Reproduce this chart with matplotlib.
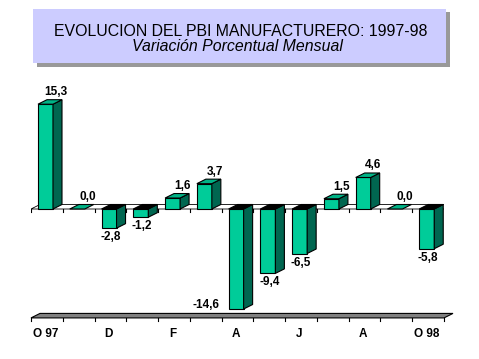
import matplotlib
matplotlib.use("Agg")
import matplotlib.pyplot as plt
from matplotlib.patches import Polygon, Rectangle

# ---- data ----
months = ["O 97", "N", "D", "E", "F", "M", "A", "M", "J", "J", "A", "S", "O 98"]
tick_labels = ["O 97", "", "D", "", "F", "", "A", "", "J", "", "A", "", "O 98"]
values = [15.3, 0.0, -2.8, -1.2, 1.6, 3.7, -14.6, -9.4, -6.5, 1.5, 4.6, 0.0, -5.8]
title1 = "EVOLUCION DEL PBI MANUFACTURERO: 1997-98"
title2 = "Variación Porcentual Mensual"

W, H = 479, 359
fig = plt.figure(figsize=(W / 100, H / 100), dpi=100)
fig.patch.set_facecolor("white")

# axes geometry (pixels)
left_px, right_px = 31, 444
zero_px, ppu = 209, 6.85
ymin, ymax = -15.9, 17.0
bot_px = zero_px - ymin * ppu
top_px = zero_px - ymax * ppu
ax = fig.add_axes([left_px / W, 1 - bot_px / H, (right_px - left_px) / W, (bot_px - top_px) / H])
n = len(values)
ax.set_xlim(-0.5, n - 0.5)
ax.set_ylim(ymin, ymax)
ax.axis("off")

cat_px = (right_px - left_px) / n
dx = 9 / cat_px      # depth in category units
dy = 4.5 / ppu       # depth in value units
bw = 15 / cat_px
boff = 7 / cat_px

FRONT = "#00CC99"
SIDE = "#006650"
TOP = "#00B386"
lw = 0.8

# zero plane
x_l, x_r = -0.5, n - 0.5
ax.add_patch(Polygon([(x_l, 0), (x_r, 0), (x_r + dx, dy), (x_l + dx, dy)],
                     closed=True, facecolor="white", edgecolor="black", lw=0.6, zorder=1))
for k in range(n + 1):
    ax.plot([k - 0.5, k - 0.5], [0, -3 / ppu], color="black", lw=0.8, zorder=1)

# floor
yf = ymin
ax.add_patch(Polygon([(x_l, yf), (x_r, yf), (x_r + dx, yf + dy), (x_l + dx, yf + dy)],
                     closed=True, facecolor="#808080", edgecolor="black", lw=0.8, zorder=1,
                     clip_on=False))
for k in range(n + 1):
    ax.plot([k - 0.5, k - 0.5], [yf, yf - 3 / ppu], color="black", lw=0.8, zorder=1, clip_on=False)
for i, lab in enumerate(tick_labels):
    if lab:
        ax.text(i - 0.05, yf - 10 / ppu, lab, ha="center", va="top", fontsize=8.5,
                fontweight="bold", family="Liberation Sans", clip_on=False)

# bars
for i, v in enumerate(values):
    x0 = i - 0.5 + boff
    x1 = x0 + bw
    lo, hi = min(0, v), max(0, v)
    if v != 0:
        ax.add_patch(Polygon([(x0, lo), (x1, lo), (x1, hi), (x0, hi)], closed=True,
                             facecolor=FRONT, edgecolor="black", lw=lw, zorder=3))
        ax.add_patch(Polygon([(x1, lo), (x1 + dx, lo + dy), (x1 + dx, hi + dy), (x1, hi)],
                             closed=True, facecolor=SIDE, edgecolor="black", lw=lw, zorder=3))
    topc = "black" if v < 0 else TOP
    ax.add_patch(Polygon([(x0, hi), (x1, hi), (x1 + dx, hi + dy), (x0 + dx, hi + dy)],
                         closed=True, facecolor=topc, edgecolor="black", lw=lw, zorder=3))
    txt = f"{v:.1f}".replace(".", ",")
    if v >= 0:
        ax.text(i + 0.28, v + dy + 1.5 / ppu, txt, ha="center", va="bottom", fontsize=8.5,
                fontweight="bold", family="Liberation Sans", zorder=4)
    else:
        if v - 16 / ppu < ymin:
            ax.text(x0 - 9 / cat_px, v + 1.5 / ppu, txt, ha="right", va="baseline", fontsize=8.5,
                    fontweight="bold", family="Liberation Sans", zorder=4)
        else:
            ax.text(i, v - 3 / ppu, txt, ha="center", va="top", fontsize=8.5,
                    fontweight="bold", family="Liberation Sans", zorder=4)

# title box with shadow
bx0, by0, bx1, by1 = 33, 9, 446, 63
sh = 3.5
fig.patches.append(Rectangle(((bx0 + sh) / W, 1 - (by1 + sh) / H), (bx1 - bx0) / W, (by1 - by0) / H,
                             transform=fig.transFigure, facecolor="#999999", edgecolor="none", zorder=0))
fig.patches.append(Rectangle((bx0 / W, 1 - by1 / H), (bx1 - bx0) / W, (by1 - by0) / H,
                             transform=fig.transFigure, facecolor="#CCCCFF", edgecolor="none", zorder=1))
fig.text((bx0 + bx1) / 2 / W + 0.002, 1 - 32 / H, title1, ha="center", va="center", fontsize=11.4,
         family="Liberation Sans", zorder=2)
fig.text((bx0 + bx1) / 2 / W - 0.005, 1 - 46.5 / H, title2, ha="center", va="center", fontsize=11.4,
         style="italic", family="Liberation Sans", zorder=2)

fig.savefig("out.png", dpi=100, facecolor="white")
